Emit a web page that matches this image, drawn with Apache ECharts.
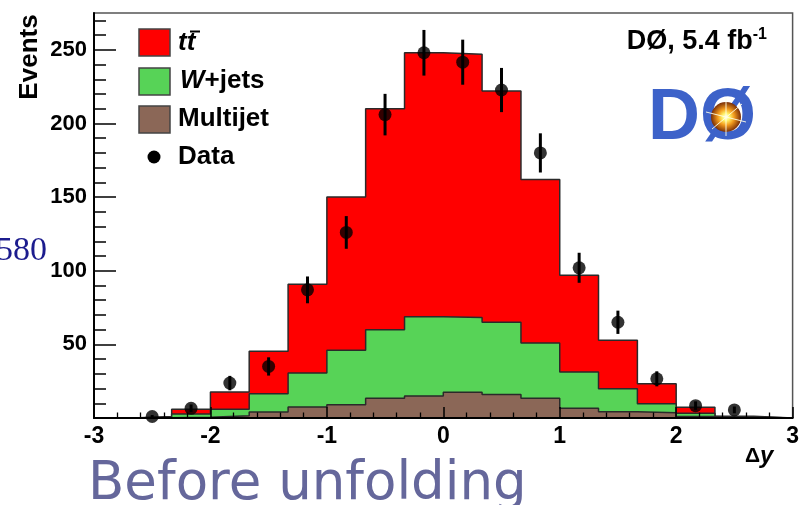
<!DOCTYPE html>
<html>
<head>
<meta charset="utf-8">
<script src="https://cdn.jsdelivr.net/npm/echarts@6/dist/echarts.min.js"></script>
<style>
html,body{margin:0;padding:0;background:#fff;}
#c{width:802px;height:505px;}
</style>
</head>
<body>
<div id="c"></div>
<script>
// ---- data ----
const binWidth = 1 / 3;
const binLowEdges = [-3, -2.667, -2.333, -2, -1.667, -1.333, -1, -0.667, -0.333, 0, 0.333, 0.667, 1, 1.333, 1.667, 2, 2.333, 2.667];
const multijet = [0, 0.2, 0.5, 1.5, 4, 7.5, 9, 13.4, 15, 17.5, 16, 13.4, 6.6, 4.3, 3.6, 1, 0.3, 0];
const wjets    = [0, 0.3, 2.2, 4.5, 12.5, 23, 37, 46.6, 53.7, 50.8, 49, 37.6, 24.6, 15.5, 6, 2.2, 0.3, 0];
const ttbar    = [0, 0.5, 3.3, 11.7, 28.8, 60.3, 104, 150, 179.3, 178.7, 157, 111, 65.8, 33, 13.6, 4.1, 0.6, 0];
const dataVals = [null, 1, 6.6, 23.7, 35, 87, 126, 206, 248, 241.6, 222.7, 180, 102, 65, 26.6, 8.4, 5.5, null];
const dataErrs = [null, 1, 2.6, 4.9, 6.2, 9.1, 11.1, 14.1, 15.5, 15.3, 15, 13.3, 10.2, 7.9, 5.1, 2.9, 2.3, null];
const xTicks = [-3, -2, -1, 0, 1, 2, 3];
const yLabelTicks = [50, 100, 150, 200, 250];
const yMajorTicks = [0, 50, 100, 150, 200, 250];
const yMinorTicks = [10, 20, 30, 40, 60, 70, 80, 90, 110, 120, 130, 140, 160, 170, 180, 190, 210, 220, 230, 240, 260, 270];
const legendNames = ['tt̄', 'W+jets', 'Multijet', 'Data'];

// ---- derived ----
const nb = binLowEdges.length;
const cum = (arrs) => binLowEdges.map((_, i) => arrs.reduce((s, a) => s + a[i], 0));
const topMJ = cum([multijet]);
const topW = cum([multijet, wjets]);
const topTT = cum([multijet, wjets, ttbar]);
const stepData = (tops) => {
  const arr = binLowEdges.map((x, i) => [x, tops[i]]);
  arr.push([binLowEdges[nb - 1] + binWidth, tops[nb - 1]]);
  return arr;
};
const pts = [];
binLowEdges.forEach((x, i) => {
  if (dataVals[i] !== null) pts.push([x + binWidth / 2, dataVals[i], dataErrs[i]]);
});

const FONT = 'Liberation Sans, Arial, sans-serif';
const histLine = { color: '#2a2a2a', width: 1.5 };

const chart = echarts.init(document.getElementById('c'), null, { renderer: 'canvas' });
chart.setOption({
  animation: false,
  backgroundColor: '#fff',
  grid: { left: 94, right: 2, top: 13, bottom: 87, show: true, borderColor: '#555', borderWidth: 1.5, backgroundColor: 'transparent' },
  xAxis: [{
    type: 'value', min: -3, max: 3, interval: 1, z: 10,
    axisLine: { show: true, onZero: false, lineStyle: { color: '#000', width: 2 } },
    axisTick: { show: true, inside: true, length: 11, lineStyle: { color: '#000', width: 1.5 } },
    minorTick: { show: true, splitNumber: 5, length: 5.5, lineStyle: { color: '#000', width: 1.3 } },
    axisLabel: { show: true, margin: 7, color: '#000', fontSize: 23, fontWeight: 'bold', fontFamily: FONT,
      formatter: v => xTicks.includes(v) ? String(v) : '' },
    splitLine: { show: false }
  }],
  yAxis: [{
    type: 'value', min: 0, max: 275, interval: 50, z: 10, position: 'left',
    axisLine: { show: true, onZero: false, lineStyle: { color: '#000', width: 2 } },
    axisTick: { show: true, inside: true, length: 22, customValues: yMajorTicks, lineStyle: { color: '#000', width: 1.5 } },
    axisLabel: { show: true, margin: 7, color: '#000', fontSize: 22, fontWeight: 'bold', fontFamily: FONT, customValues: yLabelTicks },
    splitLine: { show: false }
  }, {
    type: 'value', min: 0, max: 275, interval: 50, z: 10, position: 'left', offset: 0,
    axisLine: { show: false, onZero: false },
    axisTick: { show: true, inside: true, length: 12, customValues: yMinorTicks, lineStyle: { color: '#000', width: 1.5 } },
    axisLabel: { show: false },
    splitLine: { show: false }
  }],
  series: [
    { name: legendNames[0], type: 'line', step: 'end', data: stepData(topTT), showSymbol: false, symbol: 'none',
      lineStyle: histLine, areaStyle: { color: '#ff0000', opacity: 1 }, z: 2 },
    { name: legendNames[1], type: 'line', step: 'end', data: stepData(topW), showSymbol: false, symbol: 'none',
      lineStyle: histLine, areaStyle: { color: '#57d357', opacity: 1 }, z: 3 },
    { name: legendNames[2], type: 'line', step: 'end', data: stepData(topMJ), showSymbol: false, symbol: 'none',
      lineStyle: histLine, areaStyle: { color: '#8b6757', opacity: 1 }, z: 4 },
    { name: 'Data errors', type: 'custom', z: 5, data: pts,
      renderItem: (params, api) => {
        const x = api.value(0), y = api.value(1), e = api.value(2);
        const a = api.coord([x, y + e]);
        const b = api.coord([x, Math.max(0, y - e)]);
        return { type: 'line', shape: { x1: a[0], y1: a[1], x2: b[0], y2: b[1] }, style: { stroke: '#000', lineWidth: 3 } };
      } },
    { name: legendNames[3], type: 'scatter', z: 6, symbolSize: 13, itemStyle: { color: '#000' },
      data: pts.map(p => [p[0], p[1]]) }
  ],
  graphic: [
    // Y title
    { type: 'text', x: 30, y: 57, rotation: Math.PI / 2, z: 20,
      style: { text: 'Events', fontSize: 26, fontWeight: 'bold', fontFamily: FONT, fill: '#000', align: 'center', verticalAlign: 'middle' } },
    // X title
    { type: 'text', x: 745, y: 456, z: 20,
      style: { text: '{a|Δ}{b|y}', fontFamily: FONT, fill: '#000', verticalAlign: 'middle',
        rich: { a: { fontSize: 21, fontWeight: 'bold', fontFamily: FONT }, b: { fontSize: 24, fontWeight: 'bold', fontStyle: 'italic', fontFamily: FONT } } } },
    // legend
    { type: 'rect', shape: { x: 139, y: 29, width: 31, height: 27 }, z: 20, style: { fill: '#ff0000', stroke: '#444', lineWidth: 1.5 } },
    { type: 'rect', shape: { x: 139, y: 68, width: 31, height: 27 }, z: 20, style: { fill: '#57d357', stroke: '#444', lineWidth: 1.5 } },
    { type: 'rect', shape: { x: 139, y: 106, width: 31, height: 27 }, z: 20, style: { fill: '#8b6757', stroke: '#444', lineWidth: 1.5 } },
    { type: 'circle', shape: { cx: 154, cy: 157, r: 6.5 }, z: 20, style: { fill: '#000' } },
    { type: 'text', x: 178, y: 43, z: 20,
      style: { text: 'tt', fontSize: 26, fontWeight: 'bold', fontStyle: 'italic', fontFamily: FONT, fill: '#000', verticalAlign: 'middle' } },
    { type: 'line', shape: { x1: 190, y1: 31.5, x2: 200, y2: 31.5 }, z: 20, style: { stroke: '#000', lineWidth: 2 } },
    { type: 'text', x: 180, y: 81, z: 20,
      style: { text: '{i|W}{n|+jets}', fill: '#000', verticalAlign: 'middle',
        rich: { i: { fontSize: 26, fontWeight: 'bold', fontStyle: 'italic', fontFamily: FONT }, n: { fontSize: 26, fontWeight: 'bold', fontFamily: FONT } } } },
    { type: 'text', x: 178, y: 119, z: 20,
      style: { text: 'Multijet', fontSize: 26, fontWeight: 'bold', fontFamily: FONT, fill: '#000', verticalAlign: 'middle' } },
    { type: 'text', x: 178, y: 157, z: 20,
      style: { text: 'Data', fontSize: 26, fontWeight: 'bold', fontFamily: FONT, fill: '#000', verticalAlign: 'middle' } },
    // experiment label
    { type: 'text', x: 767, y: 42, z: 20,
      style: { text: '{m|DØ, 5.4 fb}{s|-1}', fill: '#000', align: 'right', verticalAlign: 'middle',
        rich: { m: { fontSize: 27, fontWeight: 'bold', fontFamily: FONT }, s: { fontSize: 16, fontWeight: 'bold', fontFamily: FONT, verticalAlign: 'top', padding: [0, 0, 14, 0] } } } },
    // DØ logo
    { type: 'text', x: 648, y: 119, z: 20,
      style: { text: 'DØ', fontSize: 72, fontWeight: 'bold', fontFamily: FONT, fill: '#3d62c9', verticalAlign: 'middle',
        shadowColor: 'rgba(0,0,0,0.35)', shadowBlur: 3, shadowOffsetX: 1, shadowOffsetY: 2 } },
    { type: 'circle', shape: { cx: 726, cy: 117, r: 15 }, z: 22,
      style: { fill: { type: 'radial', x: 0.5, y: 0.5, r: 0.5, colorStops: [
        { offset: 0, color: '#ffffff' }, { offset: 0.25, color: '#fff36a' }, { offset: 0.55, color: '#f29a1c' }, { offset: 1, color: '#7a2e06' } ] } } },
    { type: 'line', shape: { x1: 706, y1: 112, x2: 746, y2: 122 }, z: 23, style: { stroke: 'rgba(255,255,230,0.9)', lineWidth: 1 } },
    { type: 'line', shape: { x1: 726, y1: 98, x2: 726, y2: 136 }, z: 23, style: { stroke: 'rgba(255,255,230,0.9)', lineWidth: 1 } },
    { type: 'line', shape: { x1: 712, y1: 129, x2: 742, y2: 104 }, z: 23, style: { stroke: 'rgba(255,255,230,0.9)', lineWidth: 1 } },
    // side fragment and caption
    { type: 'text', x: -4, y: 251, z: 20,
      style: { text: '580', fontSize: 34, fontFamily: 'Liberation Serif, Times New Roman, serif', fill: '#1c1c8e', verticalAlign: 'middle' } },
    { type: 'text', x: 88, y: 485, z: 20,
      style: { text: 'Before unfolding', fontSize: 53, fontFamily: 'DejaVu Sans, Verdana, sans-serif', fill: '#65679b', verticalAlign: 'middle' } }
  ]
});
</script>
</body>
</html>
